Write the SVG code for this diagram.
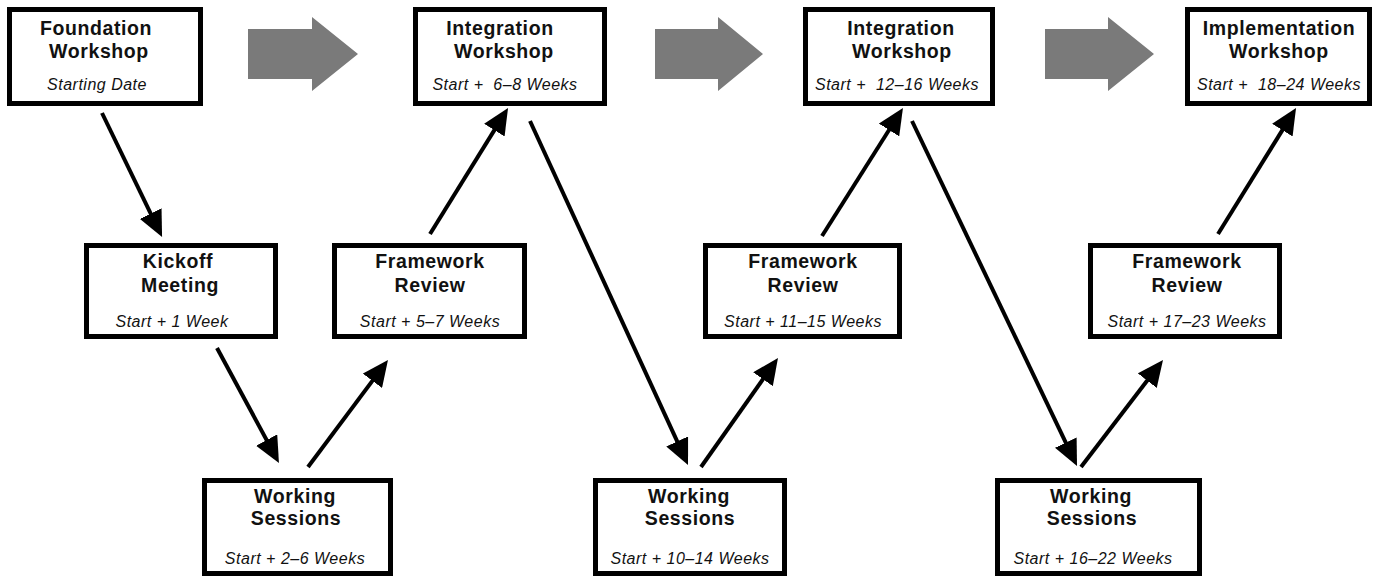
<svg xmlns="http://www.w3.org/2000/svg" width="1389" height="576" viewBox="0 0 1389 576">
  <style>
    .box { fill: #ffffff; stroke: #000000; stroke-width: 5; }
    .title { font-family: "Liberation Sans", Arial, sans-serif; font-weight: bold; font-size: 19.5px; letter-spacing: 0.6px; text-anchor: middle; fill: #111111; }
    .sub { font-family: "Liberation Sans", Arial, sans-serif; font-style: italic; font-size: 16px; letter-spacing: 0.5px; text-anchor: middle; fill: #111111; white-space: pre; }
    .flow { fill: #7a7a7a; }
    .link { fill: none; stroke: #000000; stroke-width: 4; }
  </style>
  <defs>
    <marker id="head" markerUnits="userSpaceOnUse" markerWidth="26" markerHeight="24" refX="13" refY="12" orient="auto">
      <path d="M0,0 L26,12 L0,24 Z" fill="#000000"/>
    </marker>
  </defs>
  <rect width="1389" height="576" fill="#ffffff"/>

  <!-- phase arrows between the workshops -->
  <g id="phase-arrows">
    <path class="flow" d="M248,29 H312 V17 L358,54 L312,91 V79 H248 Z"/>
    <path class="flow" d="M655,29 H718 V17 L763,54 L718,91 V79 H655 Z"/>
    <path class="flow" d="M1045,29 H1108 V17 L1154,54 L1108,91 V79 H1045 Z"/>
  </g>

  <!-- connectors -->
  <g id="connectors">
    <path class="link" marker-end="url(#head)" d="M102,113 L156.4,225.3"/>
    <path class="link" marker-end="url(#head)" d="M217,348 L272.8,451.5"/>
    <path class="link" marker-end="url(#head)" d="M308,467 L380.2,370.4"/>
    <path class="link" marker-end="url(#head)" d="M430,234 L501.2,119.1"/>
    <path class="link" marker-end="url(#head)" d="M530,121 L682.6,453.2"/>
    <path class="link" marker-end="url(#head)" d="M701,467 L770.5,368.6"/>
    <path class="link" marker-end="url(#head)" d="M822,236 L896.0,119.0"/>
    <path class="link" marker-end="url(#head)" d="M912,121 L1071.4,454.3"/>
    <path class="link" marker-end="url(#head)" d="M1081,467 L1155.1,370.3"/>
    <path class="link" marker-end="url(#head)" d="M1218,234 L1289.2,119.1"/>
  </g>

  <!-- top row: workshops -->
  <g id="foundation-workshop">
    <rect class="box" x="9.5" y="9.5" width="191" height="94"/>
    <text class="title" x="96" y="35">Foundation</text>
    <text class="title" x="99" y="58">Workshop</text>
    <text class="sub" x="97" y="90">Starting Date</text>
  </g>
  <g id="integration-workshop-1">
    <rect class="box" x="415.5" y="9.5" width="189" height="94"/>
    <text class="title" x="500" y="35">Integration</text>
    <text class="title" x="504" y="58">Workshop</text>
    <text class="sub" x="505" y="90" xml:space="preserve">Start +  6–8 Weeks</text>
  </g>
  <g id="integration-workshop-2">
    <rect class="box" x="805.5" y="9.5" width="187" height="94"/>
    <text class="title" x="901" y="35">Integration</text>
    <text class="title" x="902" y="58">Workshop</text>
    <text class="sub" x="897" y="90" xml:space="preserve">Start +  12–16 Weeks</text>
  </g>
  <g id="implementation-workshop">
    <rect class="box" x="1187.5" y="9.5" width="182" height="94"/>
    <text class="title" x="1279" y="35">Implementation</text>
    <text class="title" x="1279" y="58">Workshop</text>
    <text class="sub" x="1279" y="90" xml:space="preserve">Start +  18–24 Weeks</text>
  </g>

  <!-- middle row: meetings and reviews -->
  <g id="kickoff-meeting">
    <rect class="box" x="86.5" y="245.5" width="189" height="91"/>
    <text class="title" x="178" y="268">Kickoff</text>
    <text class="title" x="180" y="292">Meeting</text>
    <text class="sub" x="172" y="327">Start + 1 Week</text>
  </g>
  <g id="framework-review-1">
    <rect class="box" x="334.5" y="245.5" width="190" height="91"/>
    <text class="title" x="430" y="268">Framework</text>
    <text class="title" x="430" y="292">Review</text>
    <text class="sub" x="430" y="327">Start + 5–7 Weeks</text>
  </g>
  <g id="framework-review-2">
    <rect class="box" x="705.5" y="245.5" width="194" height="91"/>
    <text class="title" x="803" y="268">Framework</text>
    <text class="title" x="803" y="292">Review</text>
    <text class="sub" x="803" y="327">Start + 11–15 Weeks</text>
  </g>
  <g id="framework-review-3">
    <rect class="box" x="1090.5" y="245.5" width="189" height="91"/>
    <text class="title" x="1187" y="268">Framework</text>
    <text class="title" x="1187" y="292">Review</text>
    <text class="sub" x="1187" y="327">Start + 17–23 Weeks</text>
  </g>

  <!-- bottom row: working sessions -->
  <g id="working-sessions-1">
    <rect class="box" x="204.5" y="480.5" width="186" height="93"/>
    <text class="title" x="295" y="503">Working</text>
    <text class="title" x="296" y="525">Sessions</text>
    <text class="sub" x="295" y="564">Start + 2–6 Weeks</text>
  </g>
  <g id="working-sessions-2">
    <rect class="box" x="595.5" y="480.5" width="189" height="93"/>
    <text class="title" x="689" y="503">Working</text>
    <text class="title" x="690" y="525">Sessions</text>
    <text class="sub" x="690" y="564">Start + 10–14 Weeks</text>
  </g>
  <g id="working-sessions-3">
    <rect class="box" x="997.5" y="480.5" width="202" height="93"/>
    <text class="title" x="1091" y="503">Working</text>
    <text class="title" x="1092" y="525">Sessions</text>
    <text class="sub" x="1093" y="564">Start + 16–22 Weeks</text>
  </g>
</svg>
